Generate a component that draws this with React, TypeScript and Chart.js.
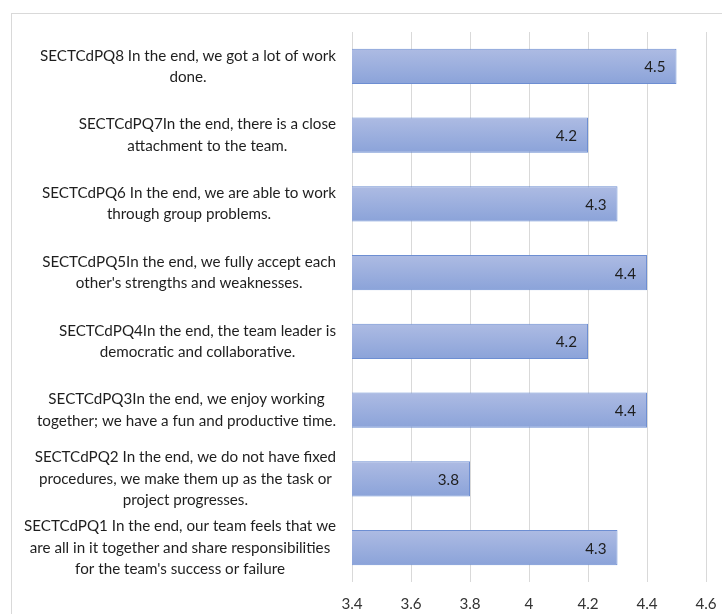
import React, { useEffect, useRef } from 'react';
import { Chart, registerables } from 'chart.js';

Chart.register(...registerables);

const categories: string[][] = [
  ['SECTCdPQ8 In the end, we got a lot of work', 'done.'],
  ['SECTCdPQ7In the end, there is a close', 'attachment to the team.'],
  ['SECTCdPQ6 In the end, we are able to work', 'through group problems.'],
  ['SECTCdPQ5In the end, we fully accept each', "other's strengths and weaknesses."],
  ['SECTCdPQ4In the end, the team leader is', 'democratic and collaborative.'],
  ['SECTCdPQ3In the end, we enjoy working', 'together; we have a fun and productive time.'],
  ['SECTCdPQ2 In the end, we do not have fixed', 'procedures, we make them up as the task or', 'project progresses.'],
  ['SECTCdPQ1 In the end, our team feels that we', 'are all in it together and share responsibilities', "for the team's success or failure"],
];
const values: number[] = [4.5, 4.2, 4.3, 4.4, 4.2, 4.4, 3.8, 4.3];
const xTicks: number[] = [3.4, 3.6, 3.8, 4, 4.2, 4.4, 4.6];

const FONT = 'Lato, "Noto Sans", sans-serif';
const FS = 15.2;
const BAR_PCT = 0.51;

const framePlugin = {
  id: 'frame',
  beforeDraw(chart: any) {
    const { ctx } = chart;
    ctx.save();
    ctx.strokeStyle = '#d9d9d9';
    ctx.lineWidth = 1;
    ctx.strokeRect(11.5, 13.5, chart.width + 20, chart.height + 20);
    ctx.restore();
  },
};

const catLabelPlugin = {
  id: 'catLabels',
  afterDraw(chart: any) {
    const { ctx, chartArea } = chart;
    const y = chart.scales.y;
    const right = chartArea.left - 16;
    ctx.save();
    ctx.font = `${FS}px ${FONT}`;
    ctx.fillStyle = '#1e1e1e';
    ctx.textBaseline = 'middle';
    ctx.textAlign = 'center';
    const lh = 21.3;
    categories.forEach((lines, i) => {
      const c = y.getPixelForValue(i);
      const w = Math.max(...lines.map((l) => ctx.measureText(l).width));
      const cx = right - w / 2;
      lines.forEach((l, j) => {
        ctx.fillText(l, cx, c + (j - (lines.length - 1) / 2) * lh);
      });
    });
    ctx.restore();
  },
};

const valueLabelPlugin = {
  id: 'valueLabels',
  afterDatasetsDraw(chart: any) {
    const { ctx } = chart;
    const meta = chart.getDatasetMeta(0);
    ctx.save();
    ctx.font = `${FS}px ${FONT}`;
    ctx.fillStyle = '#1e1e1e';
    ctx.textBaseline = 'middle';
    ctx.textAlign = 'right';
    meta.data.forEach((el: any, i: number) => {
      ctx.fillText(String(values[i]), el.x - 11, el.y + 1);
    });
    ctx.restore();
  },
};

export default function App() {
  const ref = useRef<HTMLCanvasElement | null>(null);
  useEffect(() => {
    if (!ref.current) return;
    const chart = new Chart(ref.current, {
      type: 'bar',
      data: {
        labels: categories.map((c) => c.join(' ')),
        datasets: [
          {
            data: values,
            backgroundColor: (ctx: any) => {
              const ch = ctx.chart;
              const y = ch.scales && ch.scales.y;
              if (!y || ctx.type !== 'data') return '#9cb0de';
              const c = y.getPixelForValue(ctx.dataIndex);
              const half = ((y.bottom - y.top) / categories.length) * BAR_PCT / 2;
              if (!isFinite(c) || !isFinite(half) || half <= 0) return '#9cb0de';
              const g = ch.ctx.createLinearGradient(0, c - half, 0, c + half);
              g.addColorStop(0, '#adbbe3');
              g.addColorStop(1, '#8ba3d9');
              return g;
            },
            borderColor: '#6d8ed2',
            borderWidth: 1,
            barPercentage: BAR_PCT,
            categoryPercentage: 1,
          },
        ],
      },
      options: {
        indexAxis: 'y',
        responsive: false,
        animation: false,
        layout: { padding: { top: 32, right: 16, left: 0, bottom: 0 } },
        plugins: { legend: { display: false }, tooltip: { enabled: false } },
        scales: {
          x: {
            min: 3.4,
            max: 4.6,
            afterBuildTicks: (s: any) => {
              s.ticks = xTicks.map((v) => ({ value: v }));
            },
            afterFit: (s: any) => {
              s.height = 32;
              s.paddingLeft = 0;
              s.paddingRight = 0;
            },
            ticks: {
              font: { family: FONT, size: FS },
              color: '#333333',
              padding: 13,
              callback: (v: any) => String(Number(Number(v).toFixed(1))),
            },
            grid: { color: '#d9d9d9', drawTicks: false },
            border: { display: false },
          },
          y: {
            afterFit: (s: any) => {
              s.width = 352;
            },
            ticks: { display: false },
            grid: { display: false },
            border: { display: false },
          },
        },
      },
      plugins: [framePlugin, catLabelPlugin, valueLabelPlugin],
    });
    return () => chart.destroy();
  }, []);
  return (
    <div style={{ position: 'absolute', left: 0, top: 0, width: 722, height: 614, background: '#fff' }}>
      <canvas ref={ref} width={722} height={614} />
    </div>
  );
}
